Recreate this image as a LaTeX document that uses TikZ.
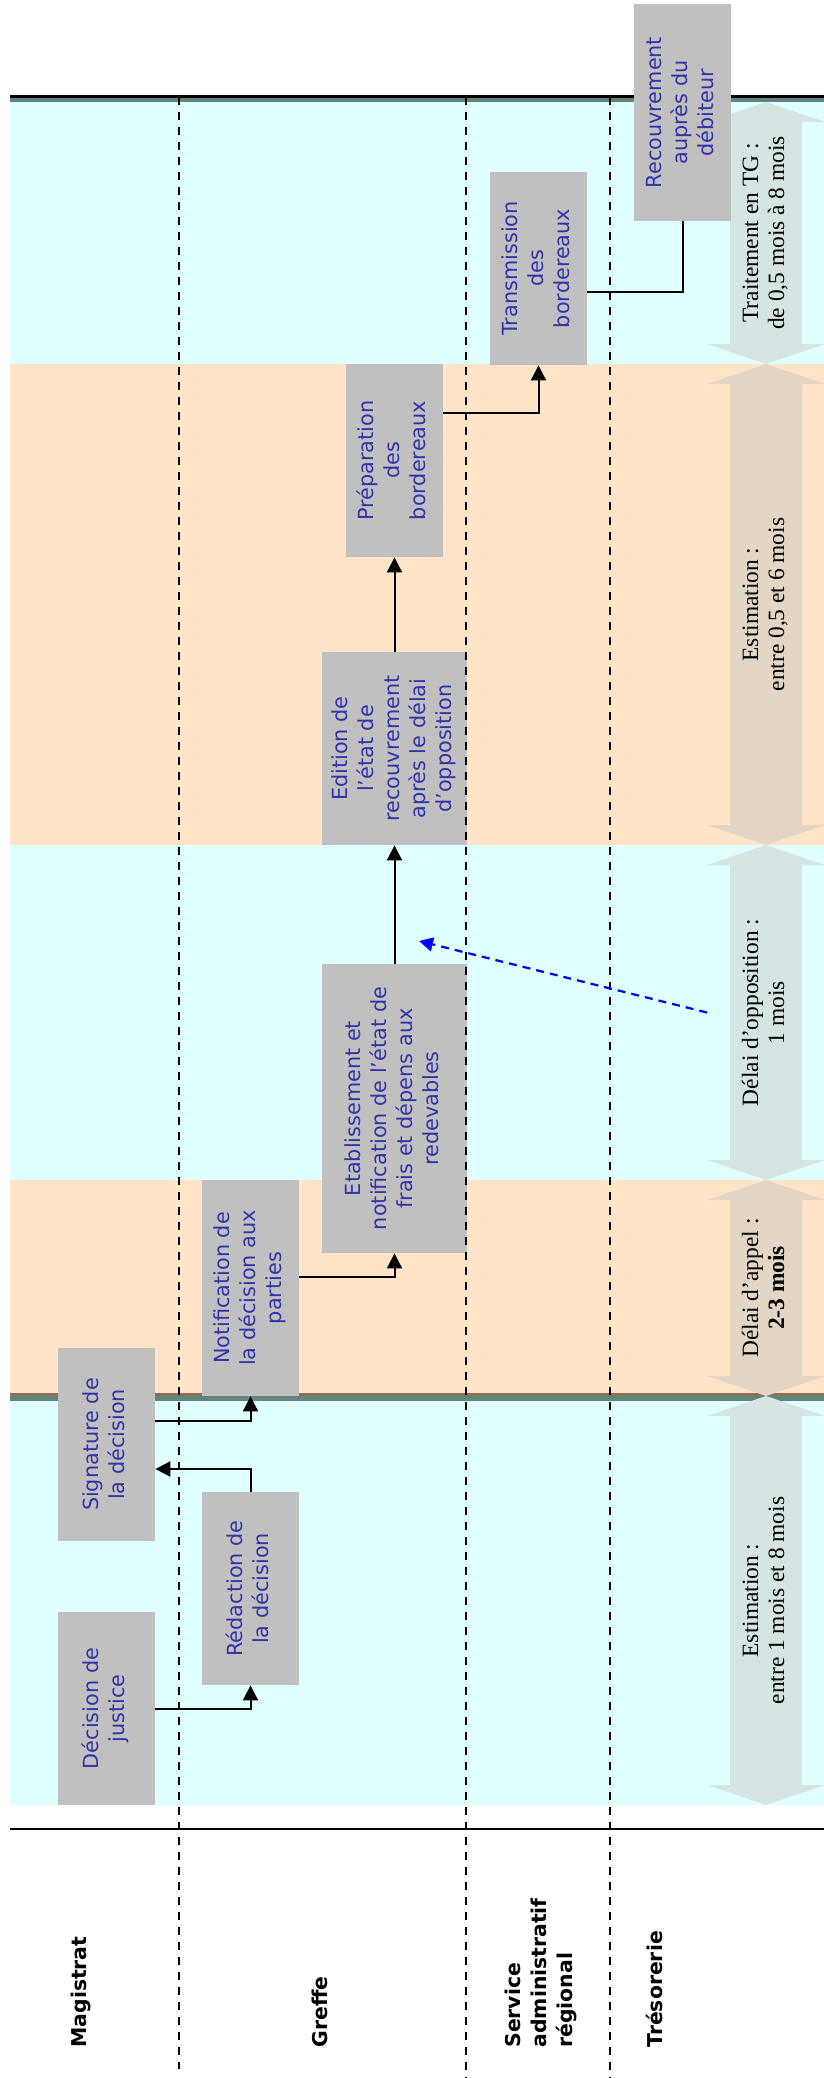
\documentclass[tikz,border=0pt]{standalone}
\usepackage{fontspec}
\setmainfont{Liberation Serif}
\newfontfamily\boxfont{DejaVu Sans}
\usepackage{xcolor}
\usepackage{tikz}
\usetikzlibrary{arrows.meta,calc}
\definecolor{bandcyan}{RGB}{224,255,255}
\definecolor{bandpeach}{RGB}{255,228,200}
\definecolor{arrcyan}{RGB}{214,228,228}
\definecolor{arrpeach}{RGB}{228,214,198}
\definecolor{boxgray}{RGB}{192,192,192}
\definecolor{boxtext}{RGB}{51,51,170}
\definecolor{edgeteal}{RGB}{96,132,128}
\definecolor{edgebrown}{RGB}{140,112,84}

\newcommand{\vtxt}[2][c]{\rotatebox{90}{\begin{tabular}{@{}#1@{}}#2\end{tabular}}}

\begin{document}
\begin{tikzpicture}[x=0.5pt,y=-0.5pt,
    box/.style={rectangle, fill=boxgray, inner sep=0pt, text=boxtext,
                minimum width=48.5pt, minimum height=96.5pt,
                font=\boxfont\fontsize{10.4}{13}\selectfont},
    lane/.style={inner sep=0pt, anchor=south, font=\boxfont\bfseries\fontsize{10.2}{13}\selectfont},
    spantext/.style={inner sep=0pt, font=\fontsize{11.7}{13}\selectfont},
    conn/.style={line width=1pt, -{Triangle[length=7.5pt,width=7.5pt]}},
    sep/.style={line width=1pt, dash pattern=on 4pt off 3.5pt}]

\useasboundingbox (0,0) rectangle (824,2078);

% bands
\fill[bandcyan] (10,102) rectangle (824,364);
\fill[bandpeach] (10,364) rectangle (824,845);
\fill[bandcyan] (10,845) rectangle (824,1180);
\fill[bandpeach] (10,1180) rectangle (824,1396);
\fill[bandcyan] (10,1396) rectangle (824,1805);

\draw[line width=1.25pt] (10,96.25) -- (824,96.25);
\draw[edgeteal, line width=2.25pt] (10,99.75) -- (824,99.75);
\draw[edgebrown, line width=1.5pt] (10,1394.5) -- (824,1394.5);
\draw[edgeteal, line width=2.5pt] (10,1398.5) -- (824,1398.5);
\draw[line width=1.25pt] (10,1829) -- (824,1829);

% durations
\foreach \ya/\yb/\col/\txt [count=\k] in {102/364/arrcyan/{Traitement en TG :\\de 0,5 mois à 8 mois},
    364/845/arrpeach/{Estimation :\\entre 0,5 et 6 mois},
    845/1180/arrcyan/{Délai d’opposition :\\1 mois},
    1180/1396/arrpeach/{Délai d’appel :\\\textbf{2-3 mois}},
    1396/1805/arrcyan/{Estimation :\\entre 1 mois et 8 mois}}{
  \fill[\col] (766,\ya) -- (825,\ya+20) -- (802,\ya+20) -- (802,\yb-20) -- (825,\yb-20)
    -- (766,\yb) -- (707,\yb-20) -- (730,\yb-20) -- (730,\ya+20) -- (707,\ya+20) -- cycle;
  \node[spantext] (span\k) at (766,{(\ya+\yb)/2}) {\vtxt{\txt}};
}

% steps
\node[box] (decision) at (106.5,1708.5) {\vtxt{Décision de\\justice}};
\node[box] (signature) at (106.5,1444.5) {\vtxt{Signature de\\la décision}};
\node[box] (redaction) at (250.5,1588.5) {\vtxt{Rédaction de\\la décision}};
\node[box, minimum height=108pt] (notification) at (250.5,1288) {\vtxt{Notification de\\la décision aux\\parties}};
\node[box, minimum width=72.5pt, minimum height=144.5pt] (etablissement) at (394.5,1108.5)
    {\vtxt{Etablissement et\\notification de l’état de\\frais et dépens aux\\redevables}};
\node[box, minimum width=72.5pt] (edition) at (394.5,748.5)
    {\vtxt{Edition de\\l’état de\\recouvrement\\après le délai\\d’opposition}};
\node[box] (preparation) at (394.5,460.5) {\vtxt{Préparation\\des\\bordereaux}};
\node[box] (transmission) at (538.5,268.5) {\vtxt{Transmission\\des\\bordereaux}};
\node[box, minimum height=108.5pt] (recouvrement) at (682.5,112.5) {\vtxt{Recouvrement\\auprès du\\débiteur}};

% lanes
\draw[sep] (178.5,97) -- (178.5,2069);
\draw[sep] (466,97) -- (466,2078);
\draw[sep] (610,97) -- (610,2078);

\node[lane] (magistrat) at (81.5,2048) {\vtxt[l]{Magistrat}};
\node[lane] (greffe) at (322,2048) {\vtxt[l]{Greffe}};
\node[lane] (service) at (541,2048) {\vtxt[l]{Service\\administratif\\régional}};
\node[lane] (tresorerie) at (657,2048) {\vtxt[l]{Trésorerie}};

\draw[conn] (decision.east) -| (redaction.south);
\draw[conn] (redaction.north) |- ($(signature.east)+(0,24.5)$);
\draw[conn] ($(signature.east)+(0,-23.5)$) -| (notification.south);
\draw[conn] ($(notification.east)+(0,-11)$) -| (etablissement.south);
\draw[conn] (etablissement.north) -- (edition.south);
\draw[conn] (edition.north) -- (preparation.south);
\draw[conn] ($(preparation.east)+(0,-47.5)$) -| (transmission.south);
\draw[line width=1pt] ($(transmission.east)+(0,23.5)$) -| (recouvrement.south);

\coordinate (oppfrom) at ($(span3)+(-59,0)$);
\coordinate (oppto) at (419,941);
\draw[blue, line width=1.1pt, dash pattern=on 4pt off 3pt, -{Triangle[length=7pt,width=7pt]}] (oppfrom) -- (oppto);
\end{tikzpicture}
\end{document}
